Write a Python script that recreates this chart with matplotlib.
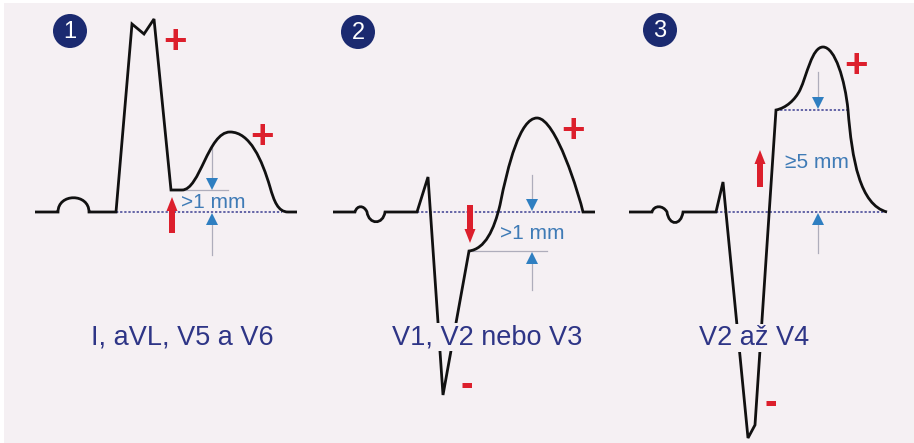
import matplotlib.pyplot as plt
from matplotlib.path import Path
from matplotlib.patches import PathPatch, Circle, Rectangle

plt.rcParams['font.family'] = ['Liberation Sans', 'DejaVu Sans']

# traces in pixel coords (y down); codes: M moveto, L lineto, C cubic bezier point
trace1_xy = [(35, 212), (58, 212), (58, 193), (89, 193), (89, 212), (116, 212),
             (132, 24), (144, 34), (154, 19), (171, 190), (182, 190),
             (200, 190), (208, 132), (230, 132),
             (250, 132), (262, 160), (270, 187),
             (274, 201), (278, 212), (288, 212), (297, 212)]
trace1_codes = "MLCCCLLLLLLCCCCCCCCCL"

trace2_xy = [(333, 212), (355, 212), (357, 205), (364, 205), (367, 212),
             (369, 225), (383, 225), (385, 212), (417, 212),
             (428, 177), (443, 395), (469, 251),
             (485, 249), (494, 230), (500, 205),
             (508, 165), (520, 118), (537, 118),
             (556, 118), (579, 195), (583, 212), (595, 212)]
trace2_codes = "MLCCCCCCLLLLCCCCCCCCCL"

trace3_xy = [(629, 212), (652, 212), (654, 205), (663, 205), (667, 212),
             (669, 226), (681, 226), (683, 212), (716, 212),
             (723, 182), (748, 438), (755, 425), (776, 110),
             (786, 108), (795, 100), (800, 90),
             (807, 75), (812, 47), (823, 47),
             (835, 47), (845, 80), (848, 110),
             (852, 160), (860, 205), (887, 212)]
trace3_codes = "MLCCCCCCLLLLLCCCCCCCCCCCC"

# dotted reference levels: (x0, x1, y)
dotted = [(116, 282, 212), (417, 583, 212), (716, 887, 212), (776, 848, 110)]
# thin grey level lines: (x0, x1, y)
grey_h = [(171, 228, 190), (469, 547, 251)]
# dimension arrows: x, top line start, top tip, bottom tip, bottom line end
dims = [(212, 148, 190, 213, 255), (532, 175, 211, 252, 290), (818, 72, 109, 213, 253)]
dim_labels = [">1 mm", ">1 mm", "≥5 mm"]
dim_label_pos = [(213, 202), (532, 233), (817, 163)]
# red arrows: x, tail y, tip y
red_arrows = [(172, 233, 197), (470, 205, 243), (760, 187, 150)]
plus_pos = [(175, 42), (262, 137), (573, 131), (856, 66)]
minus_pos = [(467, 386), (771, 404)]
numbers = ["1", "2", "3"]
number_pos = [(70, 31), (358, 32), (660, 30)]
leads = ["I, aVL, V5 a V6", "V1, V2 nebo V3", "V2 až V4"]
lead_pos = [(182, 338), (487, 337), (754, 338)]

code_map = {"M": Path.MOVETO, "L": Path.LINETO, "C": Path.CURVE4}

fig = plt.figure(figsize=(9.14, 4.43), dpi=100, facecolor="white")
ax = fig.add_axes([0, 0, 1, 1])
ax.set_xlim(0, 914)
ax.set_ylim(443, 0)
ax.axis("off")
ax.add_patch(Rectangle((4, 3), 910, 440, facecolor="#f5f0f3", edgecolor="none", zorder=0))

for x0, x1, y in dotted:
    ax.plot([x0, x1], [y, y], color="#3d3f92", lw=1.1, ls=(0, (1.5, 1.2)), zorder=2)
for x0, x1, y in grey_h:
    ax.plot([x0, x1], [y, y], color="#aeadbb", lw=0.9, zorder=2)

for x, y0, tip1, tip2, y1 in dims:
    ax.plot([x, x], [y0, tip1 - 11], color="#aeadbb", lw=0.9, zorder=2)
    ax.plot([x, x], [tip2 + 11, y1], color="#aeadbb", lw=0.9, zorder=2)
    ax.plot(x, tip1 - 6, marker="v", ms=9, color="#2f7fc1", mew=0, zorder=3)
    ax.plot(x, tip2 + 6, marker="^", ms=9, color="#2f7fc1", mew=0, zorder=3)
for lab, (x, y) in zip(dim_labels, dim_label_pos):
    ax.text(x, y, lab, ha="center", va="center", fontsize=15, color="#3f7bb6", zorder=4)

for xy, codes in [(trace1_xy, trace1_codes), (trace2_xy, trace2_codes), (trace3_xy, trace3_codes)]:
    path = Path(xy, [code_map[c] for c in codes])
    ax.add_patch(PathPatch(path, fill=False, edgecolor="#111111", lw=2.0,
                           joinstyle="miter", capstyle="butt", zorder=5))

for x, y0, y1 in red_arrows:
    ax.arrow(x, y0, 0, y1 - y0, width=6, head_width=11, head_length=14,
             length_includes_head=True, color="#dc1f2c", lw=0, zorder=6)

for x, y in plus_pos:
    ax.text(x, y, "+", ha="center", va="center", fontsize=29, fontweight="bold",
            color="#dc1f2c", zorder=6)
for x, y in minus_pos:
    ax.text(x, y, "-", ha="center", va="center", fontsize=27, fontweight="bold",
            color="#dc1f2c", zorder=6)

for n, (x, y) in zip(numbers, number_pos):
    ax.add_patch(Circle((x, y), 17, facecolor="#1b2a70", edgecolor="none", zorder=6))
    ax.text(x, y + 1, n, ha="center", va="center", fontsize=17, color="white", zorder=7)

for lab, (x, y) in zip(leads, lead_pos):
    ax.text(x, y, lab, ha="center", va="center", fontsize=19.5, color="#2e3586", zorder=8,
            bbox=dict(boxstyle="square,pad=0.05", facecolor="#f5f0f3", edgecolor="none"))

fig.savefig("out.png", dpi=100, facecolor=fig.get_facecolor())
